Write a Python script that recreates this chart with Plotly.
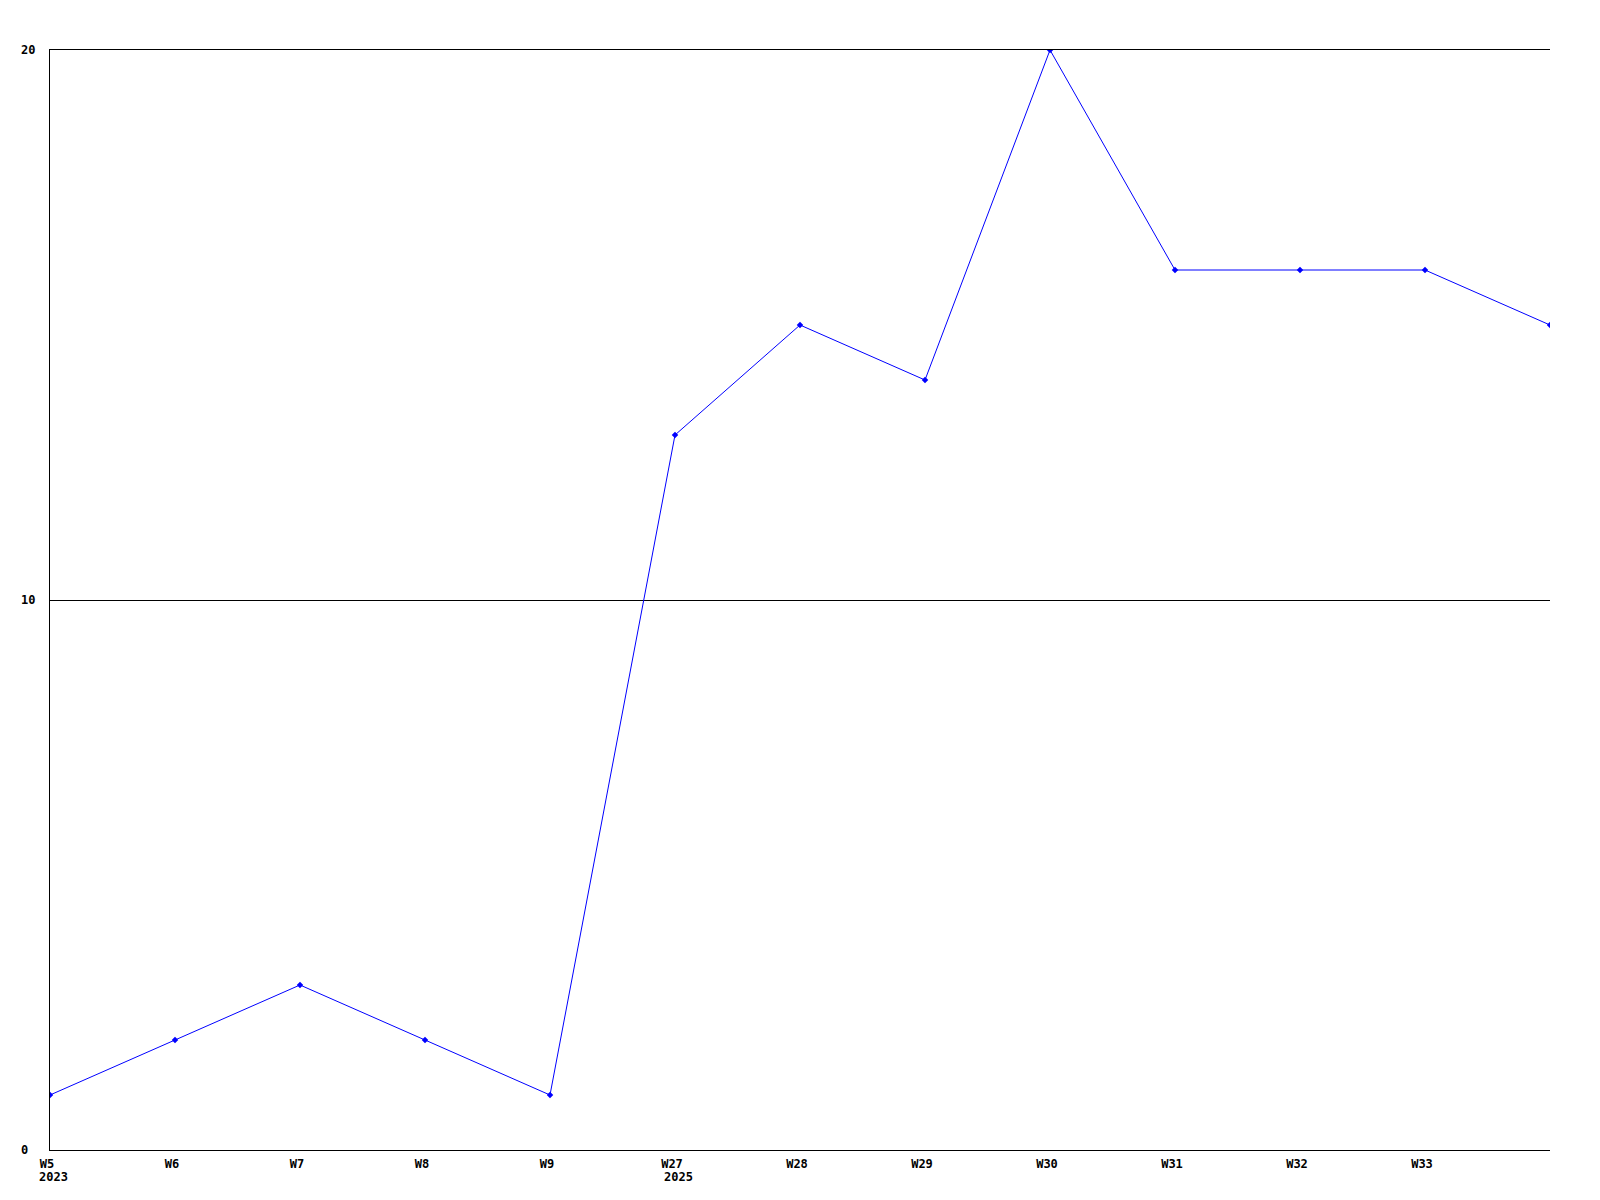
import plotly.graph_objects as go

weeks = ["W5", "W6", "W7", "W8", "W9", "W27", "W28", "W29", "W30", "W31", "W32", "W33", "W34"]
tick_labels = ["W5", "W6", "W7", "W8", "W9", "W27", "W28", "W29", "W30", "W31", "W32", "W33", ""]
values = [1, 2, 3, 2, 1, 13, 15, 14, 20, 16, 16, 16, 15]
year_labels = [("W5", "2023"), ("W27", "2025")]
y_ticks = [0, 10, 20]

FONT = dict(family="DejaVu Sans Mono", size=12, color="black", weight="bold")

fig = go.Figure()
fig.add_trace(go.Scatter(
    x=list(range(len(weeks))), y=values, mode="lines+markers",
    line=dict(color="#0000ff", width=1),
    marker=dict(symbol="diamond", size=5, color="#0000ff"),
    showlegend=False, hoverinfo="skip",
))

annotations = []
for wk, yr in year_labels:
    annotations.append(dict(x=weeks.index(wk), y=0, xref="x", yref="paper", text=yr,
                            showarrow=False, xanchor="left", yanchor="middle",
                            xshift=-13, yshift=-27, font=FONT))
for v in y_ticks:
    annotations.append(dict(x=0, y=v, xref="paper", yref="y", text=str(v),
                            showarrow=False, xanchor="left", yanchor="middle",
                            xshift=-31, font=FONT))

fig.update_layout(
    width=1600, height=1200,
    margin=dict(l=42, r=58, t=42, b=58),
    paper_bgcolor="white", plot_bgcolor="white",
    annotations=annotations,
    xaxis=dict(
        range=[0, len(weeks) - 1],
        tickmode="array", tickvals=list(range(len(weeks))), ticktext=tick_labels,
        showgrid=False, zeroline=False, showline=True, mirror=True,
        linecolor="black", linewidth=1,
        ticks="", tickfont=FONT, ticklabelstandoff=3, ticklabelshift=-3,
    ),
    yaxis=dict(
        range=[0, 20], tickvals=y_ticks, showticklabels=False,
        showgrid=True, gridcolor="black", gridwidth=1,
        zeroline=False, showline=True, linecolor="black", linewidth=1, ticks="",
    ),
)
fig.write_html("out.html")
